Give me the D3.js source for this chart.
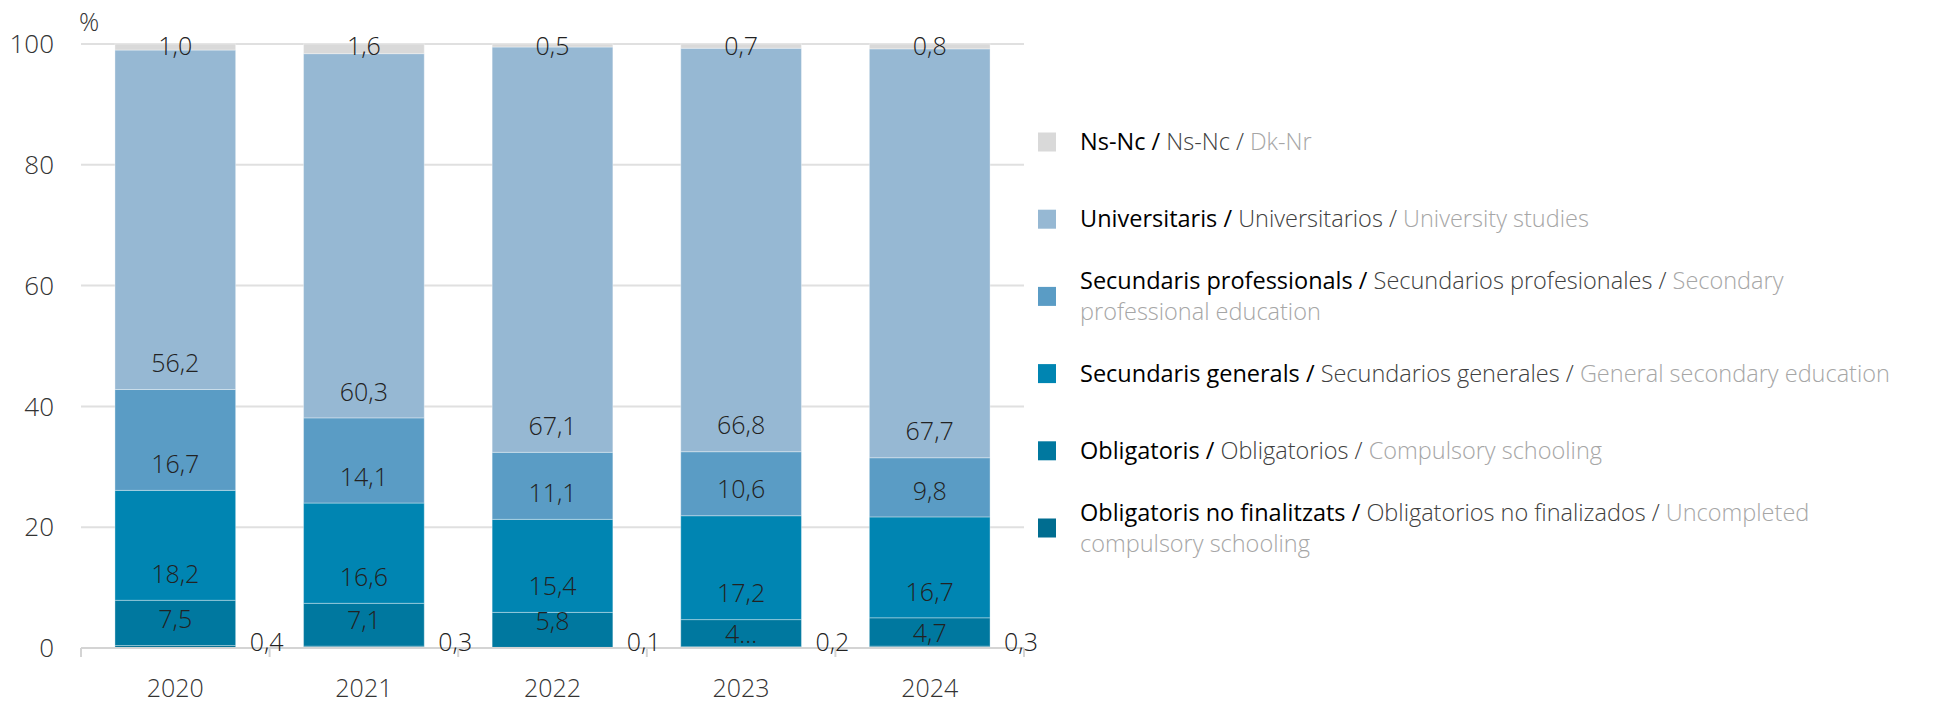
<!DOCTYPE html>
<html>
<head>
<meta charset="utf-8">
<script src="https://cdn.jsdelivr.net/npm/d3@7"></script>
<style>
  body { margin: 0; background: #fff; }
  text { font-family: "Open Sans", "Noto Sans", sans-serif; }
</style>
</head>
<body>
<div id="chart-area"></div>
<script>
// years on the x axis
let years = ["2020", "2021", "2022", "2023", "2024"];

// series, from the bottom of the stack up
let noFinalitzats = [0.4, 0.3, 0.1, 0.2, 0.3];
let obligatoris   = [7.5, 7.1, 5.8, 4.5, 4.7];
let secGenerals   = [18.2, 16.6, 15.4, 17.2, 16.7];
let secProfess    = [16.7, 14.1, 11.1, 10.6, 9.8];
let universitaris = [56.2, 60.3, 67.1, 66.8, 67.7];
let nsnc          = [1.0, 1.6, 0.5, 0.7, 0.8];

let yTicks = [0, 20, 40, 60, 80, 100];

// legend texts: catalan / spanish / english
let legendCa = ["Obligatoris no finalitzats /", "Obligatoris /", "Secundaris generals /",
                "Secundaris professionals /", "Universitaris /", "Ns-Nc /"];
let legendEs = ["Obligatorios no finalizados /", "Obligatorios /", "Secundarios generales /",
                "Secundarios profesionales /", "Universitarios /", "Ns-Nc /"];
let legendEn = [["Uncompleted", "compulsory schooling"], ["Compulsory schooling"],
                ["General secondary education"], ["Secondary", "professional education"],
                ["University studies"], ["Dk-Nr"]];

let colors = ["#006d90", "#00789f", "#0085b2", "#5a9cc5", "#96b8d3", "#d9d9d9"];

let series = [noFinalitzats, obligatoris, secGenerals, secProfess, universitaris, nsnc];
let keys = ["nf", "ob", "sg", "sp", "un", "ns"];

let table = years.map(function(yr, i) {
    let row = { year: yr };
    keys.forEach((k, j) => { row[k] = series[j][i]; });
    return row;
});

let svgCanvas = d3.select("#chart-area")
                  .append("svg")
                  .attr("width", 1934)
                  .attr("height", 703);

let x = d3.scaleBand()
          .domain(years)
          .range([81, 1024])
          .paddingInner(0.36)
          .paddingOuter(0.18);

let y = d3.scaleLinear()
          .domain([0, 100])
          .range([648, 44]);

// gridlines
svgCanvas.selectAll("line.grid")
         .data(yTicks.filter(d => d > 0))
         .enter().append("line")
         .attr("x1", 81)
         .attr("x2", 1024)
         .attr("y1", d => y(d))
         .attr("y2", d => y(d))
         .attr("stroke", "#e0e0e0")
         .attr("stroke-width", 2);

// y tick labels
svgCanvas.selectAll("text.ytick")
         .data(yTicks)
         .enter().append("text")
         .attr("x", 54)
         .attr("y", d => y(d))
         .attr("dy", "0.35em")
         .attr("text-anchor", "end")
         .attr("font-size", 26)
         .attr("font-weight", 300)
         .attr("fill", "#333")
         .text(d => d);

svgCanvas.append("text")
         .attr("x", 79)
         .attr("y", 31)
         .attr("font-size", 25)
         .attr("font-weight", 300)
         .attr("fill", "#333")
         .text("%");

let stacked = d3.stack().keys(keys)(table);

// bars
let layers = svgCanvas.selectAll("g.layer")
                      .data(stacked)
                      .enter().append("g")
                      .attr("fill", (d, i) => colors[i]);

layers.selectAll("rect")
      .data(d => d)
      .enter().append("rect")
      .attr("x", d => x(d.data.year))
      .attr("width", x.bandwidth())
      .attr("y", d => y(d[1]))
      .attr("height", d => y(d[0]) - y(d[1]))
      .attr("stroke", "rgba(255,255,255,0.35)")
      .attr("stroke-width", 1);

// x axis line and ticks
svgCanvas.append("line")
         .attr("x1", 81).attr("x2", 1024)
         .attr("y1", y(0)).attr("y2", y(0))
         .attr("stroke", "#d4d4d4")
         .attr("stroke-width", 2);

let step = x.step();
let edges = years.map(yr => x(yr) - step * x.paddingInner() / 2).concat([1024]);
svgCanvas.selectAll("line.xtick")
         .data(edges)
         .enter().append("line")
         .attr("x1", d => d).attr("x2", d => d)
         .attr("y1", y(0)).attr("y2", y(0) + 9)
         .attr("stroke", "#d4d4d4")
         .attr("stroke-width", 2);

svgCanvas.selectAll("text.xlab")
         .data(years)
         .enter().append("text")
         .attr("x", d => x(d) + x.bandwidth() / 2)
         .attr("y", 688)
         .attr("dy", "0.35em")
         .attr("text-anchor", "middle")
         .attr("font-size", 25)
         .attr("font-weight", 300)
         .attr("fill", "#333")
         .text(d => d);

// value labels
let fmt = v => v.toFixed(1).replace(".", ",");

stacked.forEach(function(layer, li) {
    layer.forEach(function(d) {
        let label = fmt(d[1] - d[0]);
        let lx = x(d.data.year) + x.bandwidth() / 2;
        let ly = y(d[0]) - 26;
        let anchor = "middle";
        if (li === 0) {
            // tiny bottom slice: label set beside the bar
            lx = x(d.data.year) + x.bandwidth() + 14;
            ly = 642;
            anchor = "start";
        } else if (li === keys.length - 1) {
            ly = Math.max(ly, 46);
        } else if (y(d[0]) - y(d[1]) < 30) {
            ly = (y(d[0]) + y(d[1])) / 2 + 1;
            if (d[1] - d[0] < 4.6) label = label.split(",")[0] + "...";
        }
        svgCanvas.append("text")
                 .attr("x", lx)
                 .attr("y", ly)
                 .attr("dy", "0.35em")
                 .attr("text-anchor", anchor)
                 .attr("font-size", 25)
                 .attr("font-weight", 300)
                 .attr("fill", "#222")
                 .text(label);
    });
});

// legend (top item is the last series)
let legendY = d3.scaleLinear().domain([5, 0]).range([142, 528]);

keys.forEach(function(k, i) {
    let cy = legendY(i);
    svgCanvas.append("rect")
             .attr("x", 1038)
             .attr("y", cy - 9.5)
             .attr("width", 18)
             .attr("height", 19)
             .attr("fill", colors[i]);

    let lines = legendEn[i].length;
    let top = cy - (lines - 1) * 31 / 2;
    let t = svgCanvas.append("text")
                     .attr("x", 1080)
                     .attr("y", top)
                     .attr("dy", "0.35em")
                     .attr("font-size", 23.5);
    t.append("tspan").attr("fill", "#000").attr("font-weight", 400).text(legendCa[i] + " ");
    t.append("tspan").attr("fill", "#404040").attr("font-weight", 300).text(legendEs[i] + " ");
    t.append("tspan").attr("fill", "#a6a6a6").attr("font-weight", 300).text(legendEn[i][0]);
    if (lines > 1) {
        t.append("tspan")
         .attr("x", 1080)
         .attr("dy", 31)
         .attr("fill", "#a6a6a6")
         .attr("font-weight", 300)
         .text(legendEn[i][1]);
    }
});
</script>
</body>
</html>
